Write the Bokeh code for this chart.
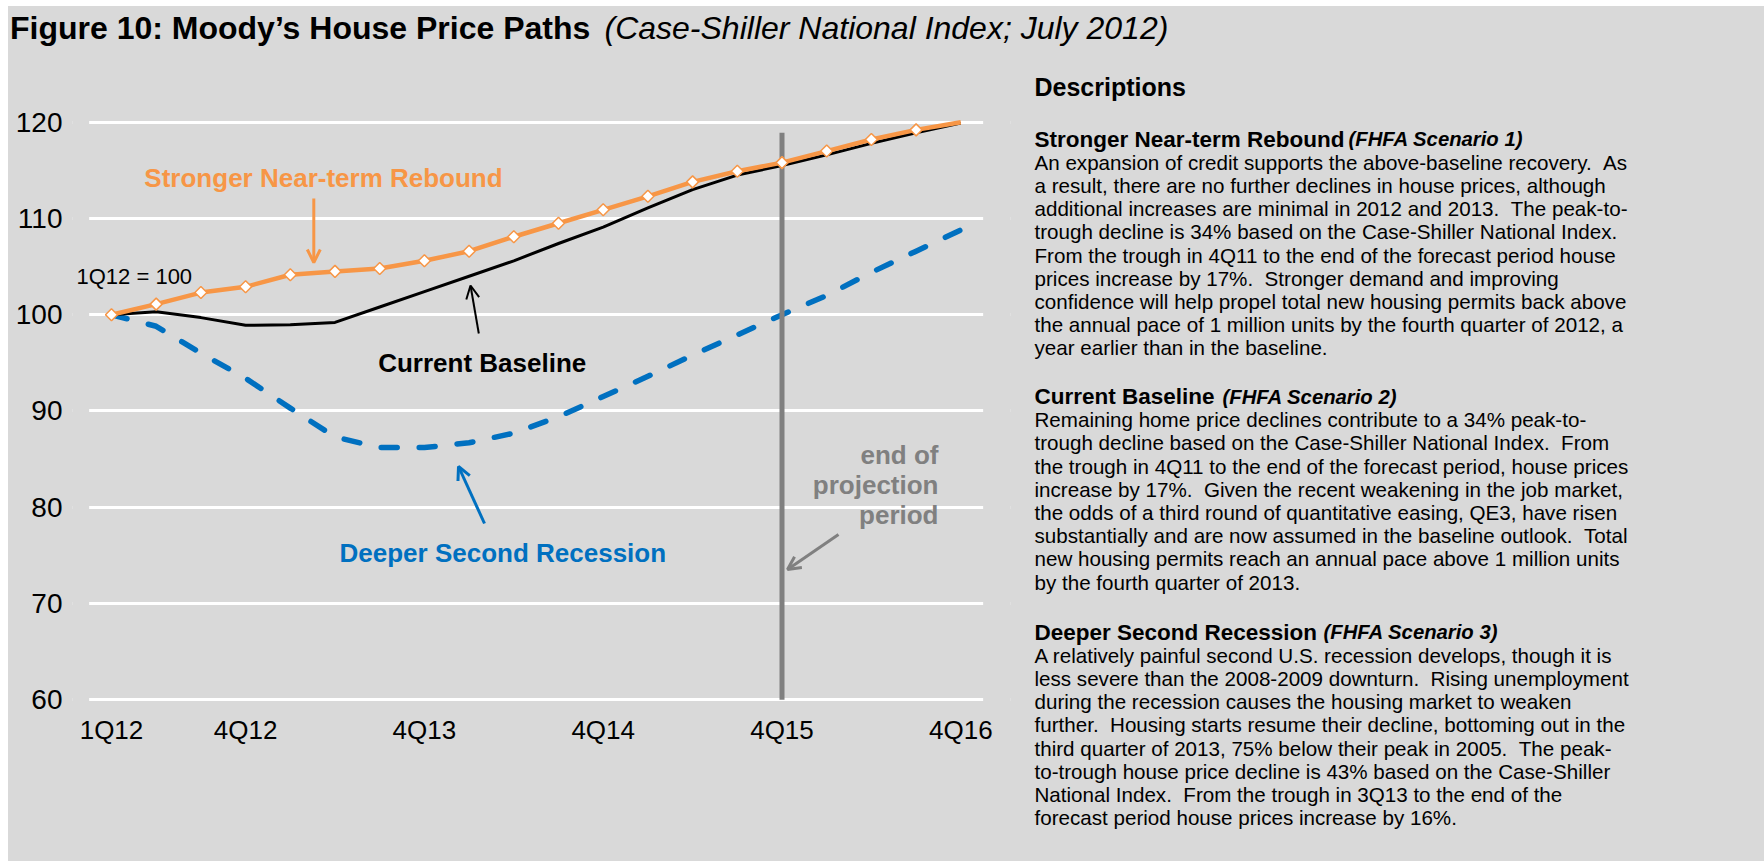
import numpy as np
from bokeh.plotting import figure
from bokeh.models import (Range1d, FixedTicker, Label, Arrow, OpenHead, ColumnDataSource,
                          BoxAnnotation)
from bokeh.layouts import column, row
from bokeh.embed import file_html
from bokeh.resources import INLINE
from bokeh.core.properties import value

# ---------------- data ----------------
quarters = ["1Q12", "2Q12", "3Q12", "4Q12", "1Q13", "2Q13", "3Q13", "4Q13",
            "1Q14", "2Q14", "3Q14", "4Q14", "1Q15", "2Q15", "3Q15", "4Q15",
            "1Q16", "2Q16", "3Q16", "4Q16"]
stronger = [100.0, 101.1, 102.3, 102.9, 104.15, 104.5, 104.8, 105.6, 106.6, 108.1,
            109.5, 110.9, 112.3, 113.8, 114.9, 115.8, 117.0, 118.2, 119.2, 120.0]
baseline = [100.0, 100.3, 99.7, 98.9, 98.95, 99.2, 100.8, 102.4, 104.0, 105.6,
            107.4, 109.1, 111.1, 113.0, 114.5, 115.5, 116.6, 117.8, 118.9, 119.9]
deeper = [100.0, 98.8, 96.0, 93.4, 90.3, 87.3, 86.2, 86.2, 86.7, 87.7,
          89.4, 91.5, 93.6, 95.8, 97.9, 100.0, 102.0, 104.4, 106.6, 108.8]
tick_labels = ["1Q12", "4Q12", "4Q13", "4Q14", "4Q15", "4Q16"]
y_ticks = [60, 70, 80, 90, 100, 110, 120]
projection_end = "4Q15"
projection_line = [60, 118.9]

title_bold = "Figure 10: Moody\u2019s House Price Paths"
title_italic = "(Case-Shiller National Index; July 2012)"

desc_title = "Descriptions"
paragraphs = [
    ("Stronger Near-term Rebound", "(FHFA Scenario 1)", 1348, [
        "An expansion of credit supports the above-baseline recovery.  As",
        "a result, there are no further declines in house prices, although",
        "additional increases are minimal in 2012 and 2013.  The peak-to-",
        "trough decline is 34% based on the Case-Shiller National Index.",
        "From the trough in 4Q11 to the end of the forecast period house",
        "prices increase by 17%.  Stronger demand and improving",
        "confidence will help propel total new housing permits back above",
        "the annual pace of 1 million units by the fourth quarter of 2012, a",
        "year earlier than in the baseline.",
    ]),
    ("Current Baseline", "(FHFA Scenario 2)", 1222, [
        "Remaining home price declines contribute to a 34% peak-to-",
        "trough decline based on the Case-Shiller National Index.  From",
        "the trough in 4Q11 to the end of the forecast period, house prices",
        "increase by 17%.  Given the recent weakening in the job market,",
        "the odds of a third round of quantitative easing, QE3, have risen",
        "substantially and are now assumed in the baseline outlook.  Total",
        "new housing permits reach an annual pace above 1 million units",
        "by the fourth quarter of 2013.",
    ]),
    ("Deeper Second Recession", "(FHFA Scenario 3)", 1323, [
        "A relatively painful second U.S. recession develops, though it is",
        "less severe than the 2008-2009 downturn.  Rising unemployment",
        "during the recession causes the housing market to weaken",
        "further.  Housing starts resume their decline, bottoming out in the",
        "third quarter of 2013, 75% below their peak in 2005.  The peak-",
        "to-trough house price decline is 43% based on the Case-Shiller",
        "National Index.  From the trough in 3Q13 to the end of the",
        "forecast period house prices increase by 16%.",
    ]),
]

# ---------------- style / layout constants (page pixels) ----------------
BG = "#D9D9D9"
ORANGE = "#F79646"
BLUE = "#0070C0"
GRAY = "#808080"
FONT_NAME = "Liberation Sans"
FONT = value(FONT_NAME)

PAGE_L, PAGE_T = 8, 6
PAGE_R, PAGE_B = 1764, 861
TITLE_B = 52          # bottom of title strip
SPLIT_X = 1020        # chart / description split
FRAME_L, FRAME_R = 72, 1010
Q0_PX, Q_PX = 111.0, 44.7        # x pixel of first quarter, pixels per quarter
V60_PX, V_PX = 699.3, 9.627      # y pixel of value 60, pixels per unit
TDY = -9                          # baseline correction for text

def qx(px):
    return (px - Q0_PX) / Q_PX

def vy(py):
    return 60 + (V60_PX - py) / V_PX

def keep_spaces(s):
    return s.replace("  ", " \u00a0")

idx = list(range(len(quarters)))
src = ColumnDataSource(dict(x=idx, q=quarters, s=stronger, b=baseline, d=deeper))

def blank_fig(w, h, xr, yr):
    f = figure(width=w, height=h, x_range=Range1d(*xr), y_range=Range1d(*yr),
               x_axis_location=None, y_axis_location=None, min_border=0,
               output_backend="svg", toolbar_location=None,
               background_fill_color=BG, border_fill_color=BG, outline_line_color=None)
    f.grid.visible = False
    return f

# ---------------- title figure ----------------
t = blank_fig(PAGE_R - PAGE_L, TITLE_B - PAGE_T, (PAGE_L, PAGE_R), (TITLE_B, PAGE_T))
t.text(x=[9.5], y=[34 - 7], text=[title_bold], text_font=FONT, text_font_size="32px",
       text_font_style="bold", text_color="black", text_baseline="alphabetic")
t.text(x=[604], y=[34 - 7], text=[title_italic], text_font=FONT, text_font_size="32px",
       text_font_style="italic", text_color="black", text_baseline="alphabetic")

# ---------------- chart figure ----------------
p = figure(width=SPLIT_X - PAGE_L, height=PAGE_B - TITLE_B,
           x_range=Range1d(qx(FRAME_L), qx(FRAME_R)),
           y_range=Range1d(vy(PAGE_B), vy(TITLE_B)),
           min_border_left=FRAME_L - PAGE_L, min_border_right=SPLIT_X - FRAME_R,
           min_border_top=0, min_border_bottom=0,
           output_backend="svg", toolbar_location=None,
           background_fill_color=BG, border_fill_color=BG, outline_line_color=None)

tick_idx = [quarters.index(q) for q in tick_labels]
p.xaxis.ticker = FixedTicker(ticks=tick_idx)
p.xaxis.major_label_overrides = {i: quarters[i] for i in tick_idx}
p.xaxis.fixed_location = vy(709)
p.yaxis.ticker = FixedTicker(ticks=y_ticks)
for ax in (p.xaxis, p.yaxis):
    ax.axis_line_color = None
    ax.major_tick_line_color = None
    ax.minor_tick_line_color = None
    ax.major_tick_out = 0
    ax.major_tick_in = 0
    ax.major_label_text_font = FONT_NAME
    ax.major_label_text_color = "black"
p.xaxis.major_label_text_font_size = "26px"
p.xaxis.major_label_standoff = 5
p.yaxis.major_label_text_font_size = "28px"
p.yaxis.major_label_standoff = 10

p.xgrid.visible = False
p.ygrid.ticker = FixedTicker(ticks=y_ticks)
p.ygrid.grid_line_color = "white"
p.ygrid.grid_line_width = 3
# plot area spans half a category either side of the first / last quarter
p.add_layout(BoxAnnotation(left=qx(FRAME_L), right=-0.5, fill_color=BG, fill_alpha=1,
                           line_color=None, level="underlay"))
p.add_layout(BoxAnnotation(left=len(quarters) - 0.5, right=qx(FRAME_R), fill_color=BG,
                           fill_alpha=1, line_color=None, level="underlay"))

p.line("x", "d", source=src, line_color=BLUE, line_width=5.5, line_dash="16 22",
       line_cap="round", line_join="round")
pe = quarters.index(projection_end)
p.segment(x0=[pe], y0=[projection_line[0]], x1=[pe], y1=[projection_line[1]],
          line_color=GRAY, line_width=5)
p.line("x", "b", source=src, line_color="black", line_width=3, line_join="round")
p.line("x", "s", source=src, line_color=ORANGE, line_width=4.5, line_join="round")
p.scatter(x=idx[:-1], y=stronger[:-1], marker="square", angle=np.pi / 4, size=8.5,
          fill_color="white", line_color=ORANGE, line_width=1.5)

def lab(px, py, text, color, size="26px", style="bold", align="left"):
    p.add_layout(Label(x=qx(px), y=vy(py + TDY), text=text, text_color=color,
                       text_font=FONT_NAME, text_font_size=size, text_font_style=style,
                       text_align=align, text_baseline="alphabetic"))

lab(323, 186.7, "Stronger Near-term Rebound", ORANGE, align="center")
lab(76, 285, "1Q12 = 100", "black", size="22px", style="normal")
lab(377.7, 371.7, "Current Baseline", "black")
lab(339, 561.7, "Deeper Second Recession", BLUE)
lab(938, 463.3, "end of", GRAY, align="right")
lab(938, 493.3, "projection", GRAY, align="right")
lab(938, 523.3, "period", GRAY, align="right")

def arrow(px0, py0, px1, py1, color, w):
    p.add_layout(Arrow(end=OpenHead(size=13, line_color=color, line_width=w),
                       x_start=qx(px0), y_start=vy(py0), x_end=qx(px1), y_end=vy(py1),
                       line_color=color, line_width=w))

arrow(313.3, 198, 313.3, 262, ORANGE, 3)
arrow(478.3, 333, 470, 285, "black", 2)
arrow(484, 523, 458, 466, BLUE, 3)
arrow(838, 534, 787, 569, GRAY, 3)

# ---------------- descriptions figure ----------------
d = blank_fig(PAGE_R - SPLIT_X, PAGE_B - TITLE_B, (SPLIT_X, PAGE_R), (PAGE_B, TITLE_B))

X0 = 1034
d.text(x=[X0], y=[95 + TDY], text=[desc_title], text_font=FONT, text_font_size="25px",
       text_font_style="bold", text_color="black", text_baseline="alphabetic")

LINE = 23.2
head_y = [147.5, 405.0, 640.5]
for (head, sub, sub_x, lines), hy in zip(paragraphs, head_y):
    hy = hy + TDY
    d.text(x=[X0], y=[hy], text=[head], text_font=FONT, text_font_size="22.5px",
           text_font_style="bold", text_color="black", text_baseline="alphabetic")
    d.text(x=[sub_x], y=[hy], text=[sub], text_font=FONT, text_font_size="20.3px",
           text_font_style="bold italic", text_color="black", text_baseline="alphabetic")
    ys = [hy + LINE * (k + 1) for k in range(len(lines))]
    d.text(x=[X0] * len(lines), y=ys, text=[keep_spaces(s) for s in lines],
           text_font=FONT, text_font_size="20.6px",
           text_color="black", text_baseline="alphabetic")

inner = row(p, d)
inner.styles = {"background-color": BG}
layout = column(t, inner)
layout.styles = {"background-color": BG}
layout.margin = (PAGE_T, 0, 0, PAGE_L)
open("out.html", "w").write(file_html(layout, INLINE))
